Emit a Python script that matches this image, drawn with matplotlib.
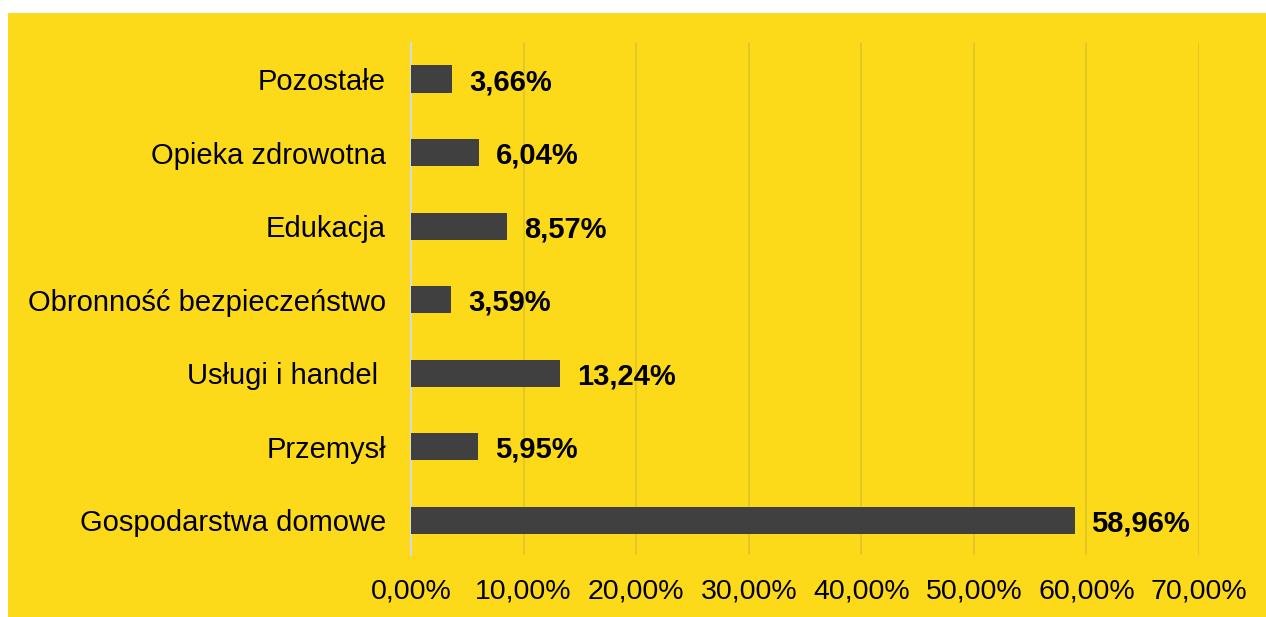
import matplotlib.pyplot as plt
from matplotlib.patches import Rectangle
from matplotlib.ticker import FuncFormatter

plt.rcParams['font.family'] = ['Liberation Sans', 'DejaVu Sans']

# dane (kolejność od dołu do góry)
kategorie = ['Gospodarstwa domowe', 'Przemysł', 'Usługi i handel ',
             'Obronność bezpieczeństwo', 'Edukacja', 'Opieka zdrowotna', 'Pozostałe']
udzialy = [58.96, 5.95, 13.24, 3.59, 8.57, 6.04, 3.66]

zolty = '#FDDA19'
szary = '#404040'

fig = plt.figure(figsize=(12.66, 6.17), dpi=100)
fig.patch.set_facecolor('white')
tlo = Rectangle((8 / 1266, -0.02), 1.02, 1.02 - 13 / 617, transform=fig.transFigure,
                facecolor=zolty, edgecolor='none', zorder=-5)
fig.add_artist(tlo)

ax = fig.add_axes([411 / 1266, 1 - 555 / 617, (1199 - 411) / 1266, (555 - 43) / 617])
ax.set_facecolor('none')

y = range(len(kategorie))
ax.barh(y, udzialy, height=0.37, color=szary, zorder=3)

for yi, v in zip(y, udzialy):
    ax.annotate(f'{v:.2f}%'.replace('.', ','), (v, yi), xytext=(12, 0),
                textcoords='offset points', ha='left', va='center_baseline',
                fontsize=21, fontweight='bold', color='black')

ax.set_xlim(0, 70)
ax.set_ylim(-0.47, 6.49)
ax.set_xticks(range(0, 71, 10))
ax.xaxis.set_major_formatter(FuncFormatter(lambda x, p: f'{x:.2f}%'.replace('.', ',')))
ax.set_yticks(list(y))
ax.set_yticklabels(kategorie)
ax.tick_params(axis='both', length=0, labelsize=20.5, colors='black')
ax.tick_params(axis='y', labelsize=21, pad=18)
ax.tick_params(axis='x', pad=17)

ax.grid(axis='x', color='#E0C22A', linewidth=1.2, zorder=1)
for s in ['top', 'right', 'bottom']:
    ax.spines[s].set_visible(False)
ax.spines['left'].set_color('#D9D9D9')
ax.spines['left'].set_linewidth(1.5)

plt.savefig('out.png', dpi=100, facecolor=fig.get_facecolor())
